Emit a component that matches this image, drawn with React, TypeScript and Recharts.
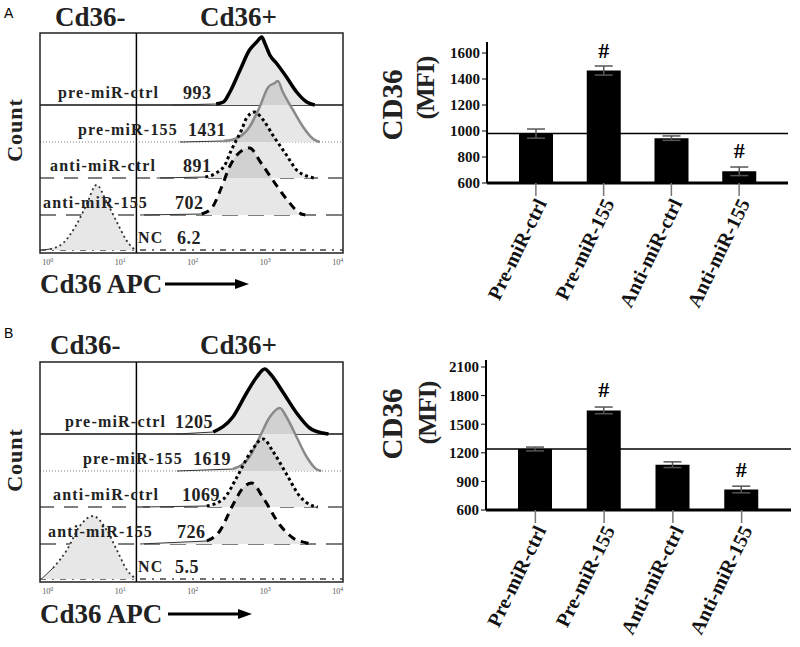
import React from 'react';
import {
  ComposedChart,
  Area,
  Line,
  XAxis,
  YAxis,
  ReferenceLine,
  ReferenceArea,
  BarChart,
  Bar,
  ErrorBar,
  LabelList,
} from 'recharts';

const SERIF = '"Liberation Serif", "Times New Roman", serif';

// Flow overlays: [log10 Cd36-APC, count], one list per row
const ctrlA = [[1.75, 0], [2.35, 1], [2.45, 3], [2.54, 13], [2.68, 35], [2.81, 55], [2.91, 63], [2.98, 68], [3.02, 62], [3.09, 50], [3.18, 42], [3.32, 28], [3.46, 13], [3.6, 3], [3.71, 0]];
const pre155A = [[1.85, 0], [2.45, 1], [2.61, 3], [2.81, 15], [2.95, 35], [3.07, 55], [3.16, 59], [3.2, 61], [3.27, 50], [3.41, 32], [3.55, 15], [3.69, 3], [3.78, 0]];
const antiCtrlA = [[1.53, 0], [2.2, 1], [2.35, 5], [2.47, 13], [2.56, 28], [2.63, 38], [2.7, 48], [2.77, 60], [2.88, 66], [3.0, 58], [3.14, 42], [3.32, 23], [3.46, 8], [3.6, 2], [3.7, 0]];
const anti155A = [[1.3, 0], [2.15, 1], [2.29, 7], [2.42, 27], [2.54, 49], [2.65, 61], [2.81, 67], [2.97, 52], [3.14, 34], [3.32, 16], [3.5, 2], [3.58, 0]];
const ncA = [[-0.05, 0], [0.06, 1], [0.24, 7], [0.42, 25], [0.56, 45], [0.7, 65], [0.84, 48], [0.98, 28], [1.11, 10], [1.2, 2], [1.24, 0]];

const ctrlB = [[1.81, 0], [2.31, 2], [2.58, 17], [2.77, 41], [2.91, 57], [3.02, 65], [3.11, 59], [3.27, 42], [3.46, 21], [3.64, 6], [3.82, 1], [3.9, 0]];
const pre155B = [[1.81, 0], [2.58, 2], [2.81, 14], [2.95, 34], [3.09, 54], [3.23, 63], [3.32, 54], [3.46, 34], [3.6, 14], [3.73, 2], [3.8, 0]];
const antiCtrlB = [[1.34, 0], [2.22, 1], [2.45, 8], [2.63, 29], [2.81, 53], [3.0, 68], [3.13, 56], [3.32, 33], [3.5, 11], [3.69, 1], [3.75, 0]];
const anti155B = [[1.3, 0], [2.22, 3], [2.4, 13], [2.58, 39], [2.72, 56], [2.84, 61], [3.0, 46], [3.23, 19], [3.41, 6], [3.6, 1], [3.65, 0]];
const ncB = [[-0.06, 0], [0.1, 11], [0.29, 29], [0.47, 53], [0.65, 63], [0.84, 49], [0.98, 29], [1.12, 9], [1.23, 1], [1.25, 0]];

const rowNames = ['pre-miR-ctrl', 'pre-miR-155', 'anti-miR-ctrl', 'anti-miR-155', 'NC'];
const mfiTextA = ['993', '1431', '891', '702', '6.2'];
const mfiTextB = ['1205', '1619', '1069', '726', '5.5'];
const decades = [0, 1, 2, 3, 4];

// Bar charts
const groups = ['Pre-miR-ctrl', 'Pre-miR-155', 'Anti-miR-ctrl', 'Anti-miR-155'];
const mfiA = [980, 1465, 945, 690];
const semA = [35, 35, 17, 33];
const mfiB = [1240, 1645, 1075, 815];
const semB = [20, 35, 30, 35];
const sig = ['', '#', '', '#'];
const ticksA = [600, 800, 1000, 1200, 1400, 1600];
const ticksB = [600, 900, 1200, 1500, 1800, 2100];
const refA = 980;
const refB = 1240;

// histogram layout
const X_MIN = -0.08;
const X_MAX = 4.1;
const GATE = 1.25;
const Y_TOP = 220;
const rowLevel = [148, 111, 75, 38, 3];
const rowStyle = [
  { line: '#000', w: 3.5, dash: undefined, sep: '#111', sepW: 1.4, sepDash: undefined },
  { line: '#8a8a8a', w: 2.5, dash: undefined, sep: '#777', sepW: 1, sepDash: '1 2' },
  { line: '#000', w: 3, dash: '3 3', sep: '#555', sepW: 1.4, sepDash: '14 10' },
  { line: '#000', w: 3, dash: '8 6', sep: '#555', sepW: 1.4, sepDash: '16 10' },
  { line: '#333', w: 1.8, dash: '2 3', sep: '#444', sepW: 1.3, sepDash: '6 6 2 6' },
];

const LogTick = (props: any) => {
  const { x, y, payload } = props;
  return (
    <text x={x + 2} y={y + 4} textAnchor="middle" fontSize={8} fill="#555" fontFamily={SERIF}>
      10
      <tspan dy={-3} fontSize={6}>{payload.value}</tspan>
    </text>
  );
};

const Txt = ({ x, y, size, children, color = '#222', spacing = 0 }: any) => (
  <div
    style={{
      position: 'absolute',
      left: x,
      top: y,
      transform: 'translateY(-50%)',
      fontFamily: SERIF,
      fontWeight: 700,
      fontSize: size,
      lineHeight: 1,
      whiteSpace: 'nowrap',
      color,
      letterSpacing: spacing,
    }}
  >
    {children}
  </div>
);

const VTxt = ({ x, y, size, children, spacing = 0 }: any) => (
  <div
    style={{
      position: 'absolute',
      left: x,
      top: y,
      transform: 'translate(-50%, -50%) rotate(-90deg)',
      fontFamily: SERIF,
      fontWeight: 700,
      fontSize: size,
      lineHeight: 1,
      whiteSpace: 'nowrap',
      color: '#222',
      letterSpacing: spacing,
    }}
  >
    {children}
  </div>
);

function FlowPanel({ top, curves, mfiText, nameX, mfiX }: any) {
  const rows = curves.map((c: number[][]) => c.map(([x, h]) => ({ x, h })));
  const edge = [{ x: X_MIN }, { x: X_MAX }];
  return (
    <>
      <div style={{ position: 'absolute', left: 38, top: top - 2 }}>
        <ComposedChart width={307} height={238} margin={{ top: 2, right: 2, bottom: 2, left: 2 }}>
          <XAxis
            type="number"
            dataKey="x"
            domain={[X_MIN, X_MAX]}
            ticks={decades}
            interval={0}
            allowDataOverflow
            axisLine={false}
            tickLine={false}
            height={14}
            tick={<LogTick />}
          />
          <YAxis type="number" domain={[0, Y_TOP]} hide allowDataOverflow />
          {rowLevel.map((lv, i) => (
            <Area
              key={'sep' + i}
              data={edge}
              dataKey={() => lv}
              type="linear"
              fill="none"
              stroke={rowStyle[i].sep}
              strokeWidth={rowStyle[i].sepW}
              strokeDasharray={rowStyle[i].sepDash}
              dot={false}
              activeDot={false}
              isAnimationActive={false}
            />
          ))}
          {rows.map((r: any[], i: number) => (
            <Area
              key={'white' + i}
              data={r}
              dataKey={(d: any) => [rowLevel[i], rowLevel[i] + d.h]}
              type="monotone"
              fill="#fff"
              fillOpacity={1}
              stroke="none"
              dot={false}
              activeDot={false}
              isAnimationActive={false}
            />
          ))}
          {rows.map((r: any[], i: number) => (
            <Area
              key={'fill' + i}
              data={r}
              dataKey={(d: any) => [rowLevel[i], rowLevel[i] + d.h]}
              type="monotone"
              fill="#000"
              fillOpacity={0.095}
              stroke="none"
              dot={false}
              activeDot={false}
              isAnimationActive={false}
            />
          ))}
          <ReferenceLine x={GATE} stroke="#000" strokeWidth={1.5} />
          <ReferenceArea
            x1={X_MIN}
            x2={X_MAX}
            y1={0}
            y2={Y_TOP}
            fill="none"
            stroke="#222"
            strokeWidth={1.5}
            ifOverflow="visible"
          />
          {rows.map((r: any[], i: number) => (
            <Line
              key={'tail' + i}
              data={r.slice(0, 2)}
              dataKey={(d: any) => rowLevel[i] + d.h}
              type="linear"
              stroke="#333"
              strokeWidth={1}
              dot={false}
              activeDot={false}
              isAnimationActive={false}
            />
          ))}
          {rows.map((r: any[], i: number) => (
            <Line
              key={'curve' + i}
              data={r.slice(1)}
              dataKey={(d: any) => rowLevel[i] + d.h}
              type="monotone"
              stroke={rowStyle[i].line}
              strokeWidth={rowStyle[i].w}
              strokeDasharray={rowStyle[i].dash}
              dot={false}
              activeDot={false}
              isAnimationActive={false}
            />
          ))}
        </ComposedChart>
      </div>
      {rowNames.map((n, i) => (
        <Txt key={'n' + i} x={nameX[i]} y={top + (Y_TOP - rowLevel[i]) - 12} size={16} spacing={1.2}>
          {n}
        </Txt>
      ))}
      {mfiText.map((m: string, i: number) => (
        <Txt key={'m' + i} x={mfiX[i]} y={top + (Y_TOP - rowLevel[i]) - 12} size={18} spacing={0.5}>
          {m}
        </Txt>
      ))}
    </>
  );
}

const GroupTick = (props: any) => {
  const { x, y, payload } = props;
  return (
    <g transform={`translate(${x + 5},${y + 2})`}>
      <text
        transform="rotate(-64)"
        textAnchor="end"
        dy="0.35em"
        fontFamily={SERIF}
        fontWeight={700}
        fontSize={20}
        fill="#111"
      >
        {payload.value}
      </text>
    </g>
  );
};

function MfiChart({ left, top, width, height, xh, values, errs, domain, ticks, refValue, padTop }: any) {
  const data = groups.map((g, i) => ({ group: g, mfi: values[i], sem: errs[i], sig: sig[i] }));
  return (
    <div style={{ position: 'absolute', left, top }}>
      <BarChart width={width} height={height} data={data} margin={{ top: 12, right: 12, bottom: 0, left: 0 }} barSize={34}>
        <XAxis
          dataKey="group"
          interval={0}
          height={xh}
          tickSize={13}
          padding={{ left: 15, right: 15 }}
          axisLine={{ stroke: '#000', strokeWidth: 3 }}
          tickLine={{ stroke: '#777', strokeWidth: 1.5 }}
          tick={<GroupTick />}
        />
        <YAxis
          type="number"
          domain={domain}
          ticks={ticks}
          interval={0}
          width={60}
          allowDataOverflow
          tickSize={5}
          padding={{ top: padTop }}
          axisLine={{ stroke: '#000', strokeWidth: 2 }}
          tickLine={{ stroke: '#000' }}
          tick={{ fontFamily: SERIF, fontWeight: 700, fontSize: 15, fill: '#111' }}
        />
        <ReferenceLine y={refValue} stroke="#000" strokeWidth={1.5} />
        <Bar dataKey="mfi" fill="#000" isAnimationActive={false}>
          <ErrorBar dataKey="sem" width={9} stroke="#555" strokeWidth={1.5} direction="y" />
          <LabelList
            dataKey="sig"
            position="top"
            offset={13}
            style={{ fontFamily: SERIF, fontWeight: 700, fontSize: 22, fill: '#000' }}
          />
        </Bar>
      </BarChart>
    </div>
  );
}

const Arrow = ({ x, y }: any) => (
  <svg style={{ position: 'absolute', left: x, top: y - 6 }} width={86} height={12}>
    <line x1={0} y1={6} x2={72} y2={6} stroke="#000" strokeWidth={3} />
    <polygon points="70,1 84,6 70,11" fill="#000" />
  </svg>
);

export default function App() {
  return (
    <div style={{ position: 'absolute', left: 0, top: 0, width: 800, height: 647, background: '#fff', overflow: 'hidden' }}>
      {/* panel A */}
      <div style={{ position: 'absolute', left: 4, top: 5, fontFamily: 'Liberation Sans, Arial, sans-serif', fontSize: 14 }}>A</div>
      <Txt x={55} y={17} size={27}>Cd36-</Txt>
      <Txt x={200} y={17} size={27}>Cd36+</Txt>
      <VTxt x={15} y={130} size={22} spacing={1}>Count</VTxt>
      <FlowPanel
        top={33}
        curves={[ctrlA, pre155A, antiCtrlA, anti155A, ncA]}
        mfiText={mfiTextA}
        nameX={[58, 78, 50, 43, 138]}
        mfiX={[183, 188, 183, 175, 177]}
      />
      <Txt x={40} y={284} size={27}>Cd36 APC</Txt>
      <Arrow x={165} y={284} />
      <VTxt x={392} y={105} size={29}>CD36</VTxt>
      <VTxt x={426} y={88} size={26} spacing={-1}>(MFI)</VTxt>
      <MfiChart
        left={427}
        top={30}
        width={373}
        height={283}
        xh={130}
        values={mfiA}
        errs={semA}
        domain={[600, 1600]}
        ticks={ticksA}
        refValue={refA}
        padTop={11}
      />

      {/* panel B */}
      <div style={{ position: 'absolute', left: 4, top: 325, fontFamily: 'Liberation Sans, Arial, sans-serif', fontSize: 14 }}>B</div>
      <Txt x={50} y={345} size={27}>Cd36-</Txt>
      <Txt x={200} y={345} size={27}>Cd36+</Txt>
      <VTxt x={15} y={460} size={22} spacing={1}>Count</VTxt>
      <FlowPanel
        top={362}
        curves={[ctrlB, pre155B, antiCtrlB, anti155B, ncB]}
        mfiText={mfiTextB}
        nameX={[65, 83, 53, 48, 138]}
        mfiX={[175, 193, 182, 177, 175]}
      />
      <Txt x={40} y={614} size={27}>Cd36 APC</Txt>
      <Arrow x={168} y={614} />
      <VTxt x={392} y={424} size={29}>CD36</VTxt>
      <VTxt x={428} y={413} size={26} spacing={-1}>(MFI)</VTxt>
      <MfiChart
        left={426}
        top={348}
        width={377}
        height={292}
        xh={130}
        values={mfiB}
        errs={semB}
        domain={[600, 2100]}
        ticks={ticksB}
        refValue={refB}
        padTop={7}
      />
    </div>
  );
}
